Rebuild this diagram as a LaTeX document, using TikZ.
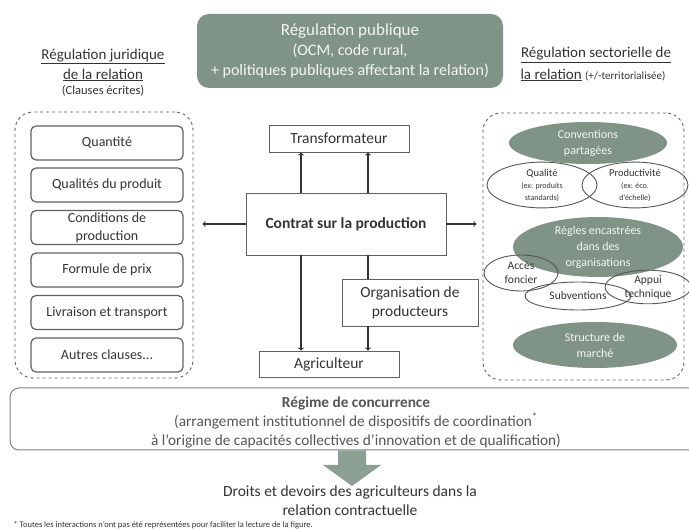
\documentclass[tikz,border=0pt]{standalone}
\usepackage{fontspec}
\setmainfont{Carlito}
\usetikzlibrary{positioning,shapes.geometric}
\definecolor{sage}{HTML}{7F9487}
\definecolor{inkgray}{HTML}{333333}
\definecolor{linegray}{HTML}{606060}
\definecolor{softgray}{HTML}{555555}
\begin{document}
\begin{tikzpicture}[x=1pt,y=-1pt,
  clause/.style={draw=linegray, line width=1.2pt, rounded corners=5pt, minimum width=152pt, minimum height=34pt, align=center, text=inkgray, font=\fontsize{14}{18}\selectfont, inner sep=1pt},
  actor/.style={draw=linegray, line width=0.8pt, align=center, text=inkgray, font=\fontsize{15.5}{19}\selectfont, inner sep=1pt},
  family/.style={draw=linegray, line width=0.9pt, dashed, rounded corners=18pt},
  darkoval/.style={ellipse, fill=sage, text=white!92!sage, align=center, inner sep=0pt, font=\fontsize{12}{16}\selectfont},
  lightoval/.style={ellipse, draw=softgray, line width=0.9pt, align=center, inner sep=0pt, text=inkgray, font=\fontsize{11.5}{14}\selectfont},
  flow/.style={->, line width=1.1pt, draw=inkgray}]
\useasboundingbox (0,0) rectangle (689,529);

% Public regulation
\node[fill=sage, rounded corners=12pt, minimum width=306pt, minimum height=74pt, align=center, text=white!92!sage, font=\fontsize{16}{20}\selectfont] (public) at (350,51)
  {{\fontsize{17}{20}\selectfont Régulation publique}\\(OCM, code rural,\\+ politiques publiques affectant la relation)};

% Titles
\node[align=center, text=inkgray, font=\fontsize{15}{20}\selectfont] (legaltitle) at (103,65)
  {\underline{Régulation juridique}\\\underline{de la relation}};
\node[text=inkgray, font=\fontsize{12.5}{14}\selectfont, below=-3pt of legaltitle] (clauses) {(Clauses écrites)};
\node[text=inkgray, font=\fontsize{15}{17}\selectfont] (sectortitle) at (596,55) {\underline{Régulation sectorielle de}};
\node[anchor=west, text=inkgray, font=\fontsize{15}{17}\selectfont] (sectorsub) at (517,75)
  {\underline{la relation} {\fontsize{11}{13}\selectfont(+/-territorialisée)}};

% Written clauses
\node[family, minimum width=178pt, minimum height=266pt] (legal) at (104,245) {};
\node[clause] (quant) at (107,143) {Quantité};
\node[clause] (qual) at (107,185) {Qualités du produit};
\node[clause] (cond) at (107,227.5) {Conditions de\\production};
\node[clause] (prix) at (107,270) {Formule de prix};
\node[clause] (livr) at (107,312.5) {Livraison et transport};
\node[clause] (autres) at (107,355) {Autres clauses...};

% Actors
\node[actor, minimum width=140pt, minimum height=27pt] (transf) at (339,138.5) {Transformateur};
\node[actor, minimum width=200pt, minimum height=62pt, font=\fontsize{15.5}{18}\selectfont\bfseries] (contrat) at (346,224) {Contrat sur la production};
\node[actor, minimum width=136pt, minimum height=47pt] (op) at (410,302.5) {Organisation de\\producteurs};
\node[actor, minimum width=140pt, minimum height=26pt] (agri) at (329,364) {Agriculteur};
\coordinate (lx) at (301,0);
\coordinate (rx) at (368,0);

% Sector regulation
\node[family, minimum width=201pt, minimum height=267pt] (sector) at (583.5,246.5) {};
\node[darkoval, minimum width=158pt, minimum height=42pt] (conv) at (588,143) {Conventions\\partagées};
\node[lightoval, minimum width=110pt, minimum height=44pt, font=\fontsize{10.5}{12}\selectfont] (qualite) at (542,185) {Qualité\\{\fontsize{8}{11}\selectfont(ex: produits}\\{\fontsize{8}{11}\selectfont standards)}};
\node[lightoval, minimum width=106pt, minimum height=44pt, font=\fontsize{10.5}{12}\selectfont] (product) at (635,185) {Productivité\\{\fontsize{8}{11}\selectfont(ex: éco.}\\{\fontsize{8}{11}\selectfont d'échelle)}};
\node[darkoval, minimum width=170pt, minimum height=56pt] (regles) at (598,247) {Règles encastrées\\dans des\\organisations};
\node[lightoval, minimum width=74pt, minimum height=36pt] (acces) at (521,273) {Accès\\foncier};
\node[lightoval, minimum width=106pt, minimum height=28pt] (subv) at (578,296) {Subventions};
\node[lightoval, minimum width=86pt, minimum height=32pt] (appui) at (648,287) {Appui\\technique};
\node[darkoval, minimum width=164pt, minimum height=46pt] (marche) at (595,345) {Structure de\\marché};

% Connections
\draw[flow] (contrat.north -| lx) -- (transf.south -| lx);
\draw[flow] (contrat.north -| rx) -- (transf.south -| rx);
\draw[flow, shorten >=9pt] (contrat.west) -- (contrat.west -| legal.east);
\draw[flow, shorten >=6pt] (contrat.east) -- (contrat.east -| sector.west);
\draw[flow] (contrat.south -| lx) -- (agri.north -| lx);
\draw[line width=1.1pt, draw=inkgray] (contrat.south -| rx) -- (op.north -| rx);
\draw[flow] (op.south -| rx) -- (agri.north -| rx);

% Competition regime
\node[draw=gray, line width=1pt, rounded corners=9pt, minimum width=690pt, minimum height=62pt] (regime) at (355,419) {};
\node[align=center, text=softgray, font=\fontsize{15.3}{19}\selectfont] (regimetext) at (356,422)
  {\textbf{Régime de concurrence}\\(arrangement institutionnel de dispositifs de coordination\textsuperscript{*}\\à l'origine de capacités collectives d'innovation et de qualification)};
\node[align=center, text=inkgray, font=\fontsize{15.5}{19}\selectfont] (droits) at (350,501)
  {Droits et devoirs des agriculteurs dans la\\relation contractuelle};
\fill[sage!90] (regime.south -| 338,0) -- (338,465) -- (323,465) -- (352,486) -- (381,465) -- (366,465) -- (regime.south -| 366,0) -- cycle;

% Footnote
\node[anchor=west, text=inkgray, font=\fontsize{8.5}{9}\selectfont] (note) at (10,525.5)
  {* Toutes les interactions n'ont pas été représentées pour faciliter la lecture de la figure.};
\end{tikzpicture}
\end{document}
